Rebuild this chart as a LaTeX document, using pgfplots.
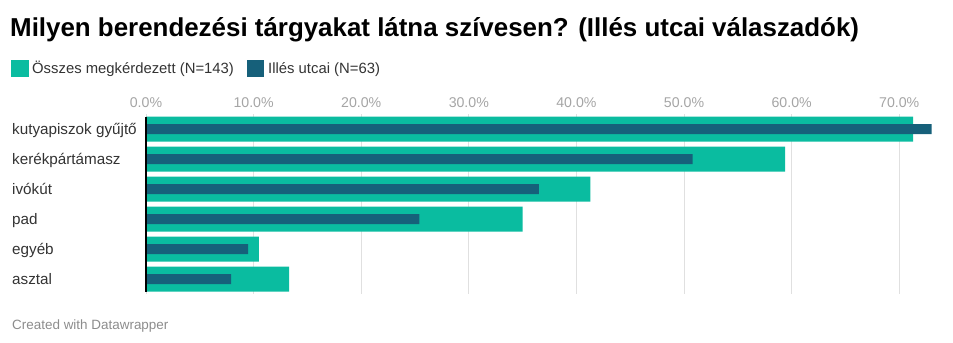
\documentclass[border=0pt]{standalone}
\usepackage{pgfplots}
\pgfplotsset{compat=1.18}
\usepackage{fontspec}
\setmainfont{Liberation Sans}
\definecolor{tealA}{RGB}{10,188,160}
\definecolor{darkA}{RGB}{22,96,122}
\definecolor{txt}{RGB}{51,51,51}
\definecolor{ticktxt}{RGB}{165,165,165}
\definecolor{foot}{RGB}{140,140,140}
\definecolor{gridc}{RGB}{224,224,224}
\begin{document}
\begin{tikzpicture}
\path (0bp,0bp) rectangle (953bp,343bp);
\node[anchor=base west, inner sep=0pt, font=\fontsize{26}{29}\selectfont\bfseries] at (10bp,306bp) {Milyen berendezési tárgyakat látna szívesen? (Illés utcai válaszadók)};
\fill[tealA] (11bp,266bp) rectangle (29bp,283bp);
\node[anchor=base west, inner sep=0pt, text=txt, font=\fontsize{14.9}{16}\selectfont] at (32bp,269bp) {Összes megkérdezett (N=143)};
\fill[darkA] (247bp,266bp) rectangle (264bp,283bp);
\node[anchor=base west, inner sep=0pt, text=txt, font=\fontsize{14.9}{16}\selectfont] at (268bp,269bp) {Illés utcai (N=63)};
\node[anchor=base west, inner sep=0pt, text=foot, font=\fontsize{13.5}{15}\selectfont] at (12bp,14bp) {Created with Datawrapper};
\begin{axis}[
  at={(146bp,228.8bp)}, anchor=north west, scale only axis,
  width=790.9bp, height=180bp,
  xmin=0, xmax=73.5, ymin=-0.5, ymax=5.5,
  axis line style={draw=none},
  major tick length=0pt,
  xtick={0,10,...,70},
  xticklabel pos=upper,
  xticklabel={\pgfmathprintnumber[fixed,fixed zerofill,precision=1]{\tick}\%},
  xticklabel style={text=ticktxt, font=\fontsize{14.2}{16}\selectfont, yshift=3bp},
  /pgf/number format/assume math mode=true,
  xmajorgrids, grid style={gridc, line width=1bp},
  ytick={0,...,5},
  yticklabels={asztal,egyéb,pad,ivókút,kerékpártámasz,kutyapiszok gyűjtő},
  yticklabel style={anchor=base west, inner xsep=0pt, inner ysep=0pt, xshift=-134bp, yshift=-5.8bp, text=txt, font=\fontsize{15.3}{17}\selectfont},
  clip=false,
]
\addplot[xbar, bar width=25bp, bar shift=0pt, fill=tealA, draw=none]
  coordinates {(13.3,0) (10.5,1) (35.0,2) (41.3,3) (59.4,4) (71.3,5)};
\addplot[xbar, bar width=10bp, bar shift=0pt, fill=darkA, draw=none]
  coordinates {(7.9,0) (9.5,1) (25.4,2) (36.5,3) (50.8,4) (73.0,5)};
\draw[black, line width=2bp] (axis cs:0,-0.4167) -- (axis cs:0,5.4167);
\end{axis}
\end{tikzpicture}
\end{document}
